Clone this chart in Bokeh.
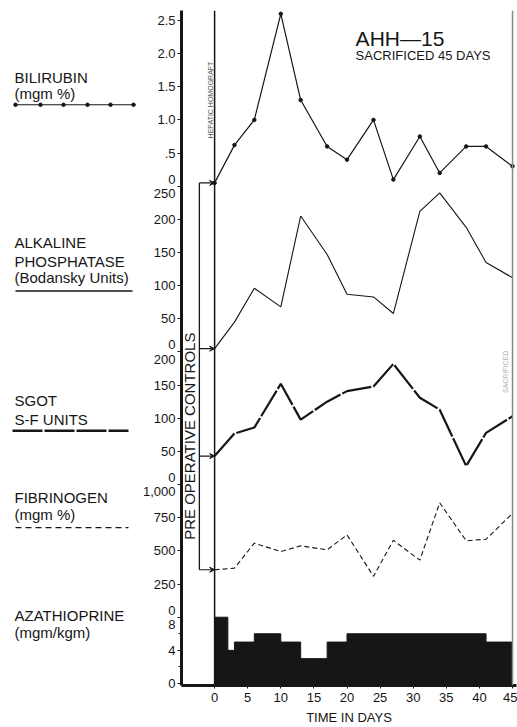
import math
from bokeh.plotting import figure
from bokeh.layouts import row
from bokeh.models import Range1d, FixedTicker, Span, Arrow, VeeHead
from bokeh.core.properties import value
from bokeh.embed import file_html
from bokeh.resources import INLINE

# ---------------- data ----------------
days = [0, 3, 6, 10, 13, 17, 20, 24, 27, 31, 34, 38, 41, 45]
bilirubin = [0.05, 0.62, 1.0, 2.6, 1.3, 0.6, 0.4, 1.0, 0.1, 0.75, 0.2, 0.6, 0.6, 0.3]
alk_phos = [5, 45, 96, 68, 205, 147, 87, 83, 58, 212, 240, 188, 135, 112]
sgot = [43, 77, 86, 152, 98, 125, 141, 148, 182, 131, 113, 28, 78, 103]
fibrinogen = [358, 370, 558, 495, 538, 508, 621, 308, 580, 430, 863, 576, 588, 783]

aza_start = [0, 2, 3, 6, 10, 13, 17, 20, 41]
aza_end = [2, 3, 6, 10, 13, 17, 20, 41, 45]
aza_dose = [8, 4, 5, 6, 5, 3, 5, 6, 5]

# pre-operative control values (arrows into day 0)
control_bili = 0.05
control_alk = 5
control_sgot = 43
control_fib = 358

event_days = [0, 45]
x_ticks = [0, 5, 10, 15, 20, 25, 30, 35, 40, 45]

aza_ticks = [0, 4, 8]
aza_labels = ["0", "4", "8"]
aza_minor = [2, 6]
fib_ticks = [0, 250, 500, 750, 1000]
fib_labels = ["0", "250", "500", "750", "1,000"]
sgot_ticks = [0, 50, 100, 150, 200]
sgot_labels = ["0", "50", "100", "150", "200"]
alk_ticks = [0, 50, 100, 150, 200, 250]
alk_labels = ["0", "50", "100", "150", "200", "250"]
bili_ticks = [0, 0.5, 1.0, 1.5, 2.0, 2.5]
bili_labels = ["0", ".5", "1.0", "1.5", "2.0", "2.5"]

# stacked panels: name, base position (grid units), value per grid unit
panels = [
    ("aza", 0, 4, aza_ticks, aza_labels),
    ("fib", 2, 250, fib_ticks, fib_labels),
    ("sgot", 6, 50, sgot_ticks, sgot_labels),
    ("alk", 10, 50, alk_ticks, alk_labels),
    ("bili", 15, 0.5, bili_ticks, bili_labels),
]
base = {name: (b, d) for name, b, d, _, _ in panels}

def to_u(name, v):
    b, d = base[name]
    return b + v / d

FONT = "Liberation Sans"
INK = "#161616"

Y0, Y1 = -0.06, 20.3
p = figure(width=378, height=727, x_range=Range1d(-5, 45.6), y_range=Range1d(Y0, Y1),
           output_backend="svg", toolbar_location=None,
           min_border_left=42, min_border_right=1, min_border_top=10, min_border_bottom=39)
p.extra_y_ranges = {name: Range1d((Y0 - b) * d, (Y1 - b) * d) for name, b, d, _, _ in panels}
p.grid.visible = False
p.outline_line_color = None

# composite left axis
tick_pos = {}
for name, b, d, ticks, labels in panels:
    for t, lab in zip(ticks, labels):
        u = round(b + t / d, 6)
        if u in tick_pos:
            tick_pos[u] = lab + "\n" + tick_pos[u]
        else:
            tick_pos[u] = lab
u_ticks = sorted(tick_pos)
minor_u = [to_u("aza", m) for m in aza_minor]
ya = p.yaxis[0]
ya.ticker = FixedTicker(ticks=u_ticks, minor_ticks=minor_u)
ya.major_label_overrides = {u: tick_pos[u] for u in u_ticks}
ya.axis_line_width = 3
ya.axis_line_color = INK
ya.major_tick_out = 4
ya.major_tick_in = 0
ya.minor_tick_out = 3
ya.minor_tick_in = 0
ya.major_tick_line_color = INK
ya.minor_tick_line_color = INK
ya.major_label_standoff = 2
ya.major_label_text_font = FONT
ya.major_label_text_font_size = "13px"
ya.major_label_text_line_height = 0.95
ya.major_label_text_color = INK

xa = p.xaxis[0]
xa.ticker = FixedTicker(ticks=x_ticks, minor_ticks=[])
xa.axis_line_width = 3
xa.axis_line_color = INK
xa.major_tick_out = 3
xa.major_tick_in = 0
xa.major_tick_line_color = INK
xa.major_label_standoff = 4
xa.major_label_text_font = FONT
xa.major_label_text_font_size = "13px"
xa.major_label_text_color = INK
xa.axis_label = "TIME IN DAYS"
xa.axis_label_text_font = FONT
xa.axis_label_text_font_size = "13px"
xa.axis_label_text_font_style = "normal"
xa.axis_label_text_color = INK
xa.axis_label_standoff = 5

# azathioprine step bars
p.quad(left=aza_start, right=aza_end, bottom=0, top=aza_dose, y_range_name="aza",
       fill_color=INK, line_color=INK)

# series
p.line(days, bilirubin, y_range_name="bili", line_width=1.2, line_color=INK)
p.scatter(days, bilirubin, y_range_name="bili", size=3.5, color=INK)
p.line(days, alk_phos, y_range_name="alk", line_width=1.1, line_color=INK)
p.line(days, sgot, y_range_name="sgot", line_width=2.2, line_color=INK, line_dash="30 2")
p.line(days, fibrinogen, y_range_name="fib", line_width=1.1, line_color=INK, line_dash="5 3")

# day 0 (graft) and day 45 (sacrifice)
p.add_layout(Span(location=event_days[0], dimension="height", line_color=INK, line_width=1.5))
p.add_layout(Span(location=event_days[1], dimension="height", line_color="#8a8a8a", line_width=1.5))

# pre-operative controls bracket
preop_x = -2.3
p.segment(x0=[preop_x], y0=[to_u("fib", control_fib)], x1=[preop_x], y1=[to_u("bili", control_bili)],
          line_color=INK, line_width=1.3)
for name, cv in [("bili", control_bili), ("alk", control_alk), ("sgot", control_sgot), ("fib", control_fib)]:
    p.add_layout(Arrow(end=VeeHead(size=5, line_color=INK, line_width=1), x_start=preop_x, y_start=cv,
                       x_end=0, y_end=cv, y_range_name=name, line_color=INK, line_width=1.2))

p.text(x=[-3.85], y=[7.46], text=["PRE OPERATIVE CONTROLS"], angle=math.pi / 2,
       text_font=value(FONT), text_font_size="15px", text_align="center", text_baseline="middle",
       text_color=INK)
p.text(x=[-0.6], y=[17.6], text=["HEPATIC HOMOGRAFT"], angle=math.pi / 2,
       text_font=value(FONT), text_font_size="7px", text_align="center", text_baseline="middle",
       text_color="#555555")
p.text(x=[44.0], y=[9.4], text=["SACRIFICED"], angle=math.pi / 2,
       text_font=value(FONT), text_font_size="7px", text_align="center", text_baseline="middle",
       text_color="#b5b5b5")

# title block
p.text(x=[21.3], y=[19.46], text=["AHH\u201415"], text_font=value(FONT), text_font_size="21px",
       text_baseline="alphabetic", text_color=INK)
p.text(x=[21.3], y=[18.95], text=["SACRIFICED 45 DAYS"], text_font=value(FONT), text_font_size="13px",
       text_baseline="alphabetic", text_color=INK)

# ---------------- left column: series names and line keys ----------------
left = figure(width=139, height=727, x_range=Range1d(0, 139), y_range=Range1d(727, 0),
              output_backend="svg", toolbar_location=None, min_border=0,
              x_axis_location=None, y_axis_location=None)
left.grid.visible = False
left.outline_line_color = None

name_lines = ["BILIRUBIN", "(mgm %)", "ALKALINE", "PHOSPHATASE", "(Bodansky Units)",
              "SGOT", "S-F UNITS", "FIBRINOGEN", "(mgm %)", "AZATHIOPRINE", "(mgm/kgm)"]
name_y = [72, 89, 250, 270, 288, 420, 440, 525, 543, 652, 670]
left.text(x=[14] * len(name_lines), y=name_y, text=name_lines, text_font=value(FONT),
          text_font_size="15px", text_baseline="alphabetic", text_color=INK)

left.line([15, 135], [101.5, 101.5], line_color=INK, line_width=1.2)
left.scatter([15, 40, 63, 87, 110, 133], [101.5] * 6, size=3.5, color=INK)
left.line([15, 132], [302, 302], line_color=INK, line_width=1.5)
left.line([12, 128], [452.5, 452.5], line_color=INK, line_width=2.5, line_dash="30 2")
left.line([15, 128], [557, 557], line_color=INK, line_width=1.1, line_dash="6 4")

layout = row(left, p)
open("out.html", "w").write(file_html(layout, INLINE))
